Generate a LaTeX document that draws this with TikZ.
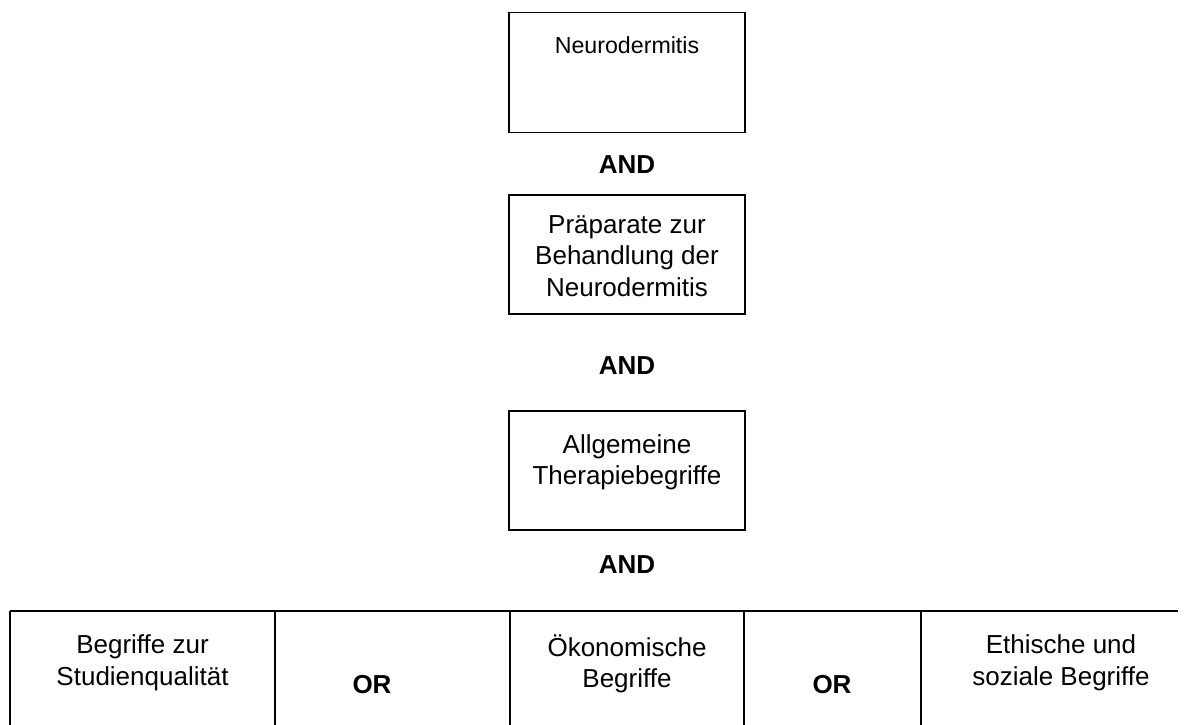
\documentclass[tikz,border=0pt]{standalone}
\usepackage{fontspec}
\setmainfont{Liberation Sans}
\begin{document}
\begin{tikzpicture}[x=1pt,y=-1pt,
  box/.style={draw,line width=1.5pt,minimum width=236pt,minimum height=120pt,inner sep=0pt},
  txt/.style={align=center,inner sep=0pt,font=\fontsize{26}{31.5}\selectfont},
  op/.style={inner sep=0pt,font=\bfseries\fontsize{26}{31.5}\selectfont},
  rule/.style={line width=1.5pt}]
\useasboundingbox (0,0) rectangle (1189,725);
% top boxes
\node[box] (b1) at (627,72.5) {};
\node[txt,font=\fontsize{23.2}{27}\selectfont] (t1) at (627,45) {Neurodermitis};
\node[op] (and1) at (627,165) {AND};
\node[box,minimum height=119pt] (b2) at (627,254.5) {};
\node[txt] (t2) at (627,256) {Präparate zur\\Behandlung der\\Neurodermitis};
\node[op] (and2) at (627,366) {AND};
\node[box,minimum height=119pt] (b3) at (627,470.5) {};
\node[txt] (t3) at (627,462.5) {Allgemeine\\Therapiebegriffe};
\node[op] (and3) at (627,565) {AND};
% bottom row
\coordinate (r0) at (10,611);
\coordinate (r1) at (275,611);
\coordinate (r2) at (510,611);
\coordinate (r3) at (744,611);
\coordinate (r4) at (921,611);
\coordinate (r5) at (1178,611);
\draw[rule] (r0) -- (r5);
\foreach \c in {r0,r1,r2,r3,r4}{\draw[rule] (\c) -- ++(0,120);}
\node[txt] (c1) at (142.5,663) {Begriffe zur\\Studienqualität};
\node[op] (or1) at (372,685) {OR};
\node[txt] (c2) at (627,664) {Ökonomische\\Begriffe};
\node[op] (or2) at (832,685) {OR};
\node[txt] (c3) at (1061,663) {Ethische und\\soziale Begriffe};
\end{tikzpicture}
\end{document}
